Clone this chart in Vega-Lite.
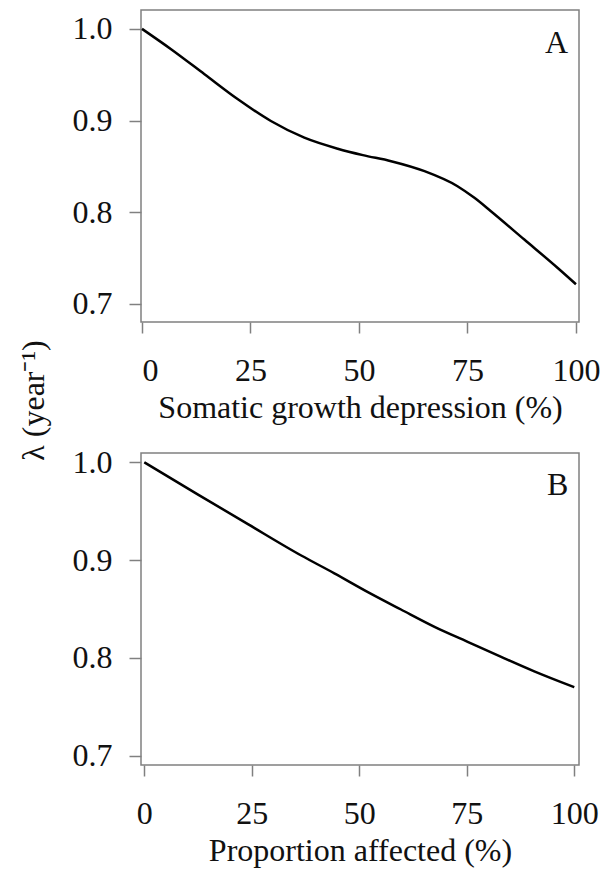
{
  "$schema": "https://vega.github.io/schema/vega-lite/v6.json",
  "padding": {"left": 16, "top": 9, "right": 5, "bottom": 5},
  "bounds": "flush",
  "spacing": 131,
  "background": "white",
  "config": {
    "font": "Liberation Serif",
    "view": {"stroke": "#808080", "strokeWidth": 1.5},
    "axis": {
      "labelFont": "Liberation Serif", "titleFont": "Liberation Serif",
      "labelFontSize": 32, "titleFontSize": 32,
      "labelColor": "#111111", "titleColor": "#111111", "titleFontWeight": "normal",
      "tickColor": "#808080", "tickWidth": 1.5, "tickSize": 11,
      "domain": false, "grid": false
    },
    "axisX": {"labelPadding": 22, "titlePadding": 6},
    "axisY": {"labelPadding": 17, "tickSize": 12}
  },
  "datasets": {
    "panelA": [
      {"x": 0, "lambda": 1.0},
      {"x": 6.7, "lambda": 0.9778},
      {"x": 14.4, "lambda": 0.9505},
      {"x": 22.1, "lambda": 0.9232},
      {"x": 29.7, "lambda": 0.8995},
      {"x": 37.4, "lambda": 0.8813},
      {"x": 45.1, "lambda": 0.8693},
      {"x": 50.9, "lambda": 0.8623},
      {"x": 57.4, "lambda": 0.8557},
      {"x": 65.1, "lambda": 0.8448},
      {"x": 72.7, "lambda": 0.8284},
      {"x": 76.6, "lambda": 0.8157},
      {"x": 80.4, "lambda": 0.8011},
      {"x": 88.1, "lambda": 0.7702},
      {"x": 95.8, "lambda": 0.7392},
      {"x": 100, "lambda": 0.7215}
    ],
    "panelB": [
      {"x": 0, "lambda": 1.0},
      {"x": 12.5, "lambda": 0.967},
      {"x": 24.2, "lambda": 0.9365},
      {"x": 36.5, "lambda": 0.9047},
      {"x": 44.2, "lambda": 0.8865},
      {"x": 52.0, "lambda": 0.8673},
      {"x": 59.7, "lambda": 0.8495},
      {"x": 67.5, "lambda": 0.8318},
      {"x": 75.2, "lambda": 0.8165},
      {"x": 83.0, "lambda": 0.8010},
      {"x": 90.7, "lambda": 0.7862},
      {"x": 100, "lambda": 0.770}
    ],
    "tagA": [{"tag": "A"}],
    "tagB": [{"tag": "B"}]
  },
  "vconcat": [
    {
      "width": 438,
      "height": 312,
      "layer": [
        {
          "data": {"name": "panelA"},
          "mark": {"type": "line", "color": "#000000", "strokeWidth": 2.5, "interpolate": "monotone"},
          "encoding": {
            "x": {"field": "x", "type": "quantitative",
              "scale": {"domain": [-0.23, 100.7], "nice": false, "zero": false},
              "axis": {"values": [0, 25, 50, 75, 100], "title": "Somatic growth depression (%)"}},
            "y": {"field": "lambda", "type": "quantitative",
              "scale": {"domain": [0.6803, 1.0206], "nice": false, "zero": false},
              "axis": {"values": [0.7, 0.8, 0.9, 1.0], "format": ".1f", "title": "λ (year⁻¹)",
                "titleY": 390, "titlePadding": 29, "titleBaseline": "alphabetic"}}
          }
        },
        {
          "data": {"name": "tagA"},
          "mark": {"type": "text", "align": "right", "baseline": "alphabetic", "fontSize": 32, "font": "Liberation Serif", "color": "#111111"},
          "encoding": {
            "text": {"field": "tag"},
            "x": {"datum": 98.2, "type": "quantitative"},
            "y": {"datum": 0.9742, "type": "quantitative"}
          }
        }
      ]
    },
    {
      "width": 438,
      "height": 312,
      "layer": [
        {
          "data": {"name": "panelB"},
          "mark": {"type": "line", "color": "#000000", "strokeWidth": 2.5, "interpolate": "monotone"},
          "encoding": {
            "x": {"field": "x", "type": "quantitative",
              "scale": {"domain": [-0.77, 101.1], "nice": false, "zero": false},
              "axis": {"values": [0, 25, 50, 75, 100], "title": "Proportion affected (%)"}},
            "y": {"field": "lambda", "type": "quantitative",
              "scale": {"domain": [0.6905, 1.0095], "nice": false, "zero": false},
              "axis": {"values": [0.7, 0.8, 0.9, 1.0], "format": ".1f", "title": null}}
          }
        },
        {
          "data": {"name": "tagB"},
          "mark": {"type": "text", "align": "right", "baseline": "alphabetic", "fontSize": 32, "font": "Liberation Serif", "color": "#111111"},
          "encoding": {
            "text": {"field": "tag"},
            "x": {"datum": 98.6, "type": "quantitative"},
            "y": {"datum": 0.9666, "type": "quantitative"}
          }
        }
      ]
    }
  ]
}
